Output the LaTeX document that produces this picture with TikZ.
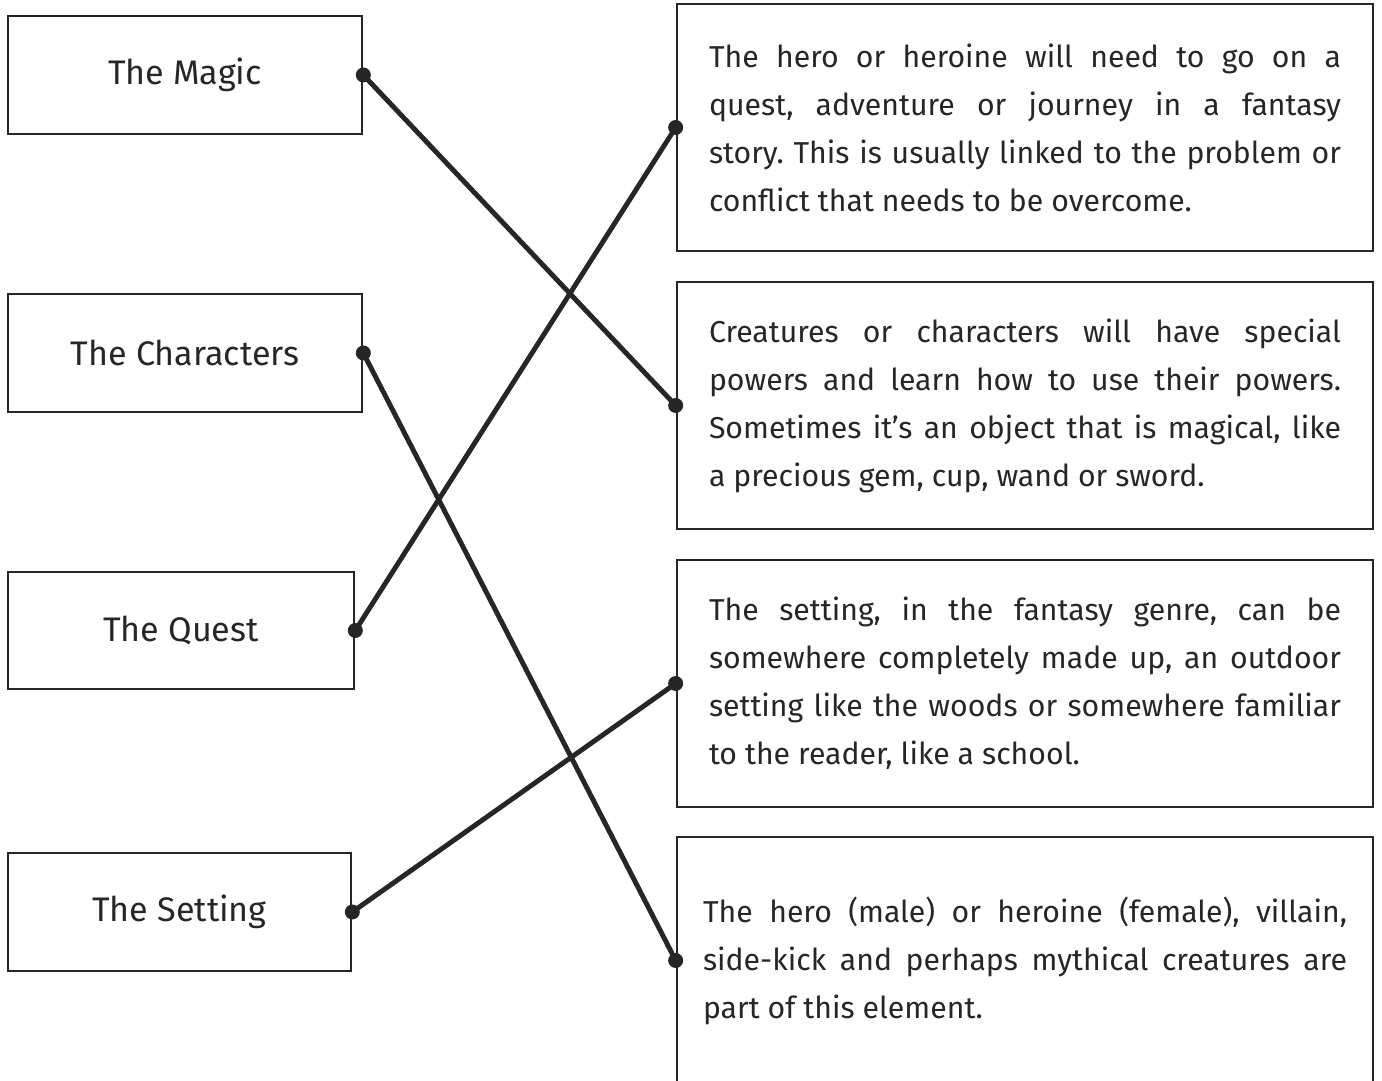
\documentclass[tikz,border=0pt]{standalone}
\usepackage{fontspec}
\setmainfont{Fira Sans}
\definecolor{ink}{HTML}{262626}
\newcommand{\fullline}[2][6.32cm]{{\spaceskip=0pt\xspaceskip=0pt\makebox[#1][s]{#2}}\\}

\begin{document}
\begin{tikzpicture}[every node/.style={draw=ink, line width=0.75pt, text=ink, font=\fontsize{9.7pt}{13.66pt}\selectfont},
    label box/.style={minimum width=3.54cm, minimum height=1.18cm},
    info box/.style={minimum width=6.96cm, minimum height=2.47cm, text width=6.32cm, inner xsep=0.32cm, align=justify,
      font=\fontsize{8.6pt}{13.66pt}\selectfont\frenchspacing},
    link/.style={ink, line width=1.4pt}]
  \useasboundingbox (0,0) rectangle (13.82,-10.81);
  % left column
  \node[label box] (magic) at (1.85,-0.75) {The Magic};
  \node[label box] (chars) at (1.85,-3.53) {The Characters};
  \node[label box, minimum width=3.46cm, minimum height=1.17cm] (quest) at (1.81,-6.305) {The Quest};
  \node[label box, minimum width=3.43cm] (setting) at (1.795,-9.12) {The Setting};
  % right column
  \node[info box] (questtxt) at (10.25,-1.275) {\fullline{The hero or heroine will need to go on a}
    \fullline{quest, adventure or journey in a fantasy}
    \fullline{story. This is usually linked to the problem or}
    conflict that needs to be overcome.};
  \node[info box] (magictxt) at (10.25,-4.055) {\fullline{Creatures or characters will have special}
    \fullline{powers and learn how to use their powers.}
    \fullline{Sometimes it’s an object that is magical, like}
    a precious gem, cup, wand or sword.};
  \node[info box] (settingtxt) at (10.25,-6.835) {\fullline{The setting, in the fantasy genre, can be}
    \fullline{somewhere completely made up, an outdoor}
    \fullline{setting like the woods or somewhere familiar}
    to the reader, like a school.};
  \node[info box, text width=6.44cm, inner xsep=0.26cm] (charstxt) at (10.25,-9.605) {\fullline[6.44cm]{The hero (male) or heroine (female), villain,}
    \fullline[6.44cm]{side-kick and perhaps mythical creatures are}
    part of this element.};
  % matching lines
  \draw (magic.east) edge[link] (magictxt.west);
  \draw (chars.east) edge[link] (charstxt.west);
  \draw (quest.east) edge[link] (questtxt.west);
  \draw (setting.east) edge[link] (settingtxt.west);
  \foreach \p in {magic.east, chars.east, quest.east, setting.east, questtxt.west, magictxt.west, settingtxt.west, charstxt.west}
    \fill[ink] (\p) circle (0.075);
\end{tikzpicture}
\end{document}
